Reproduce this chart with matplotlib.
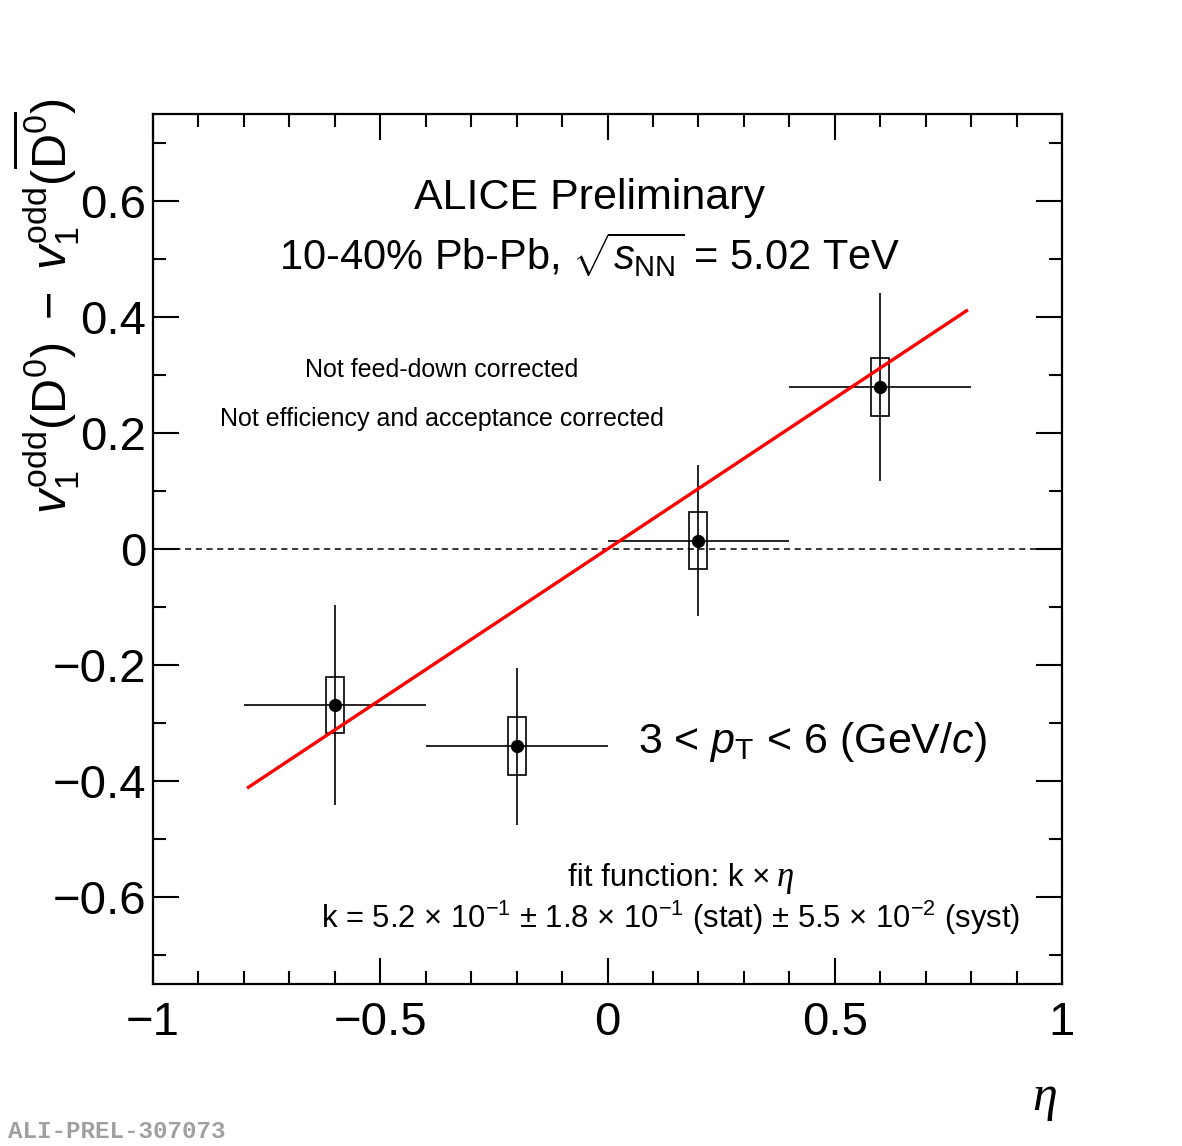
import matplotlib
matplotlib.use("Agg")
import matplotlib.pyplot as plt
from matplotlib.patches import Rectangle
from matplotlib.ticker import MultipleLocator

plt.rcParams['font.family'] = ['Liberation Sans', 'DejaVu Sans']
plt.rcParams['mathtext.fontset'] = 'custom'
plt.rcParams['mathtext.rm'] = 'Liberation Sans'
plt.rcParams['mathtext.it'] = 'Liberation Sans:italic'
plt.rcParams['mathtext.bf'] = 'Liberation Sans:bold'

# data
eta = [-0.6, -0.2, 0.2, 0.6]
eta_err = [0.2, 0.2, 0.2, 0.2]
dv1 = [-0.269, -0.340, 0.014, 0.279]
stat_err = [0.172, 0.135, 0.130, 0.162]
syst_err = [0.048, 0.050, 0.049, 0.050]
k_fit = 0.52
fit_range = [-0.79, 0.79]

fig = plt.figure(figsize=(11.82, 11.46), dpi=100)
ax = fig.add_axes([153/1182, 1-984/1146, 909/1182, 870/1146])

# zero line
ax.plot([-1, 1], [0, 0], color='black', ls=(0, (4, 3)), lw=1.1, zorder=1)

# stat errors
ax.errorbar(eta, dv1, xerr=eta_err, yerr=stat_err, fmt='o', color='black',
            ms=8.5, elinewidth=1.2, capsize=0, zorder=4)

# syst boxes
for x, y, s in zip(eta, dv1, syst_err):
    ax.add_patch(Rectangle((x-0.02, y-s), 0.04, 2*s, fill=False,
                           edgecolor='black', lw=1.2, zorder=3))

# fit line
ax.plot(fit_range, [k_fit*v for v in fit_range], color='red', lw=2.4, zorder=5)

ax.set_xlim(-1, 1)
ax.set_ylim(-0.75, 0.75)
ax.xaxis.set_major_locator(MultipleLocator(0.5))
ax.xaxis.set_minor_locator(MultipleLocator(0.1))
ax.yaxis.set_major_locator(MultipleLocator(0.2))
ax.yaxis.set_minor_locator(MultipleLocator(0.1))
ax.tick_params(which='both', direction='in', top=True, right=True, width=1.5,
               labelsize=34)
ax.tick_params(axis='x', pad=12)
ax.tick_params(axis='y', pad=5)
ax.tick_params(which='major', length=19)
ax.tick_params(which='minor', length=9.5)
for sp in ax.spines.values():
    sp.set_linewidth(1.6)

def fmt(v, pos):
    if abs(v) < 1e-9:
        return '0'
    s = ('%g' % v)
    return s.replace('-', '\u2212')
ax.xaxis.set_major_formatter(plt.FuncFormatter(fmt))
ax.yaxis.set_major_formatter(plt.FuncFormatter(fmt))

def px(x, y):
    return (x/1182, 1-y/1146)

# axis titles
fig.text(*px(46, 98),
         r'$v_1^{\rm odd}({\rm D}^0)\ -\ v_1^{\rm odd}(\overline{{\rm D}^0})$',
         rotation=90, ha='center', va='top', fontsize=35)
fig.text(*px(1045, 1098), '\u03b7', family='Liberation Serif',
         style='italic', fontsize=36, ha='center', va='center')

# annotations
fig.text(*px(590, 198), 'ALICE Preliminary', fontsize=31, ha='center', va='center')
fig.text(*px(590, 255), r'10-40% Pb-Pb, $\sqrt{s_{\rm NN}}$ = 5.02 TeV',
         fontsize=30, ha='center', va='center')
fig.text(*px(442, 370), 'Not feed-down corrected', fontsize=18,
         ha='center', va='center')
fig.text(*px(442, 419), 'Not efficiency and acceptance corrected', fontsize=18,
         ha='center', va='center')
fig.text(*px(638, 742), r'3 < $p_{\rm T}$ < 6 (GeV/$c$)', fontsize=31,
         ha='left', va='center')
fig.text(*px(770, 878), 'fit function: k \u00d7', fontsize=22.5,
         ha='right', va='center')
fig.text(*px(777, 878), '\u03b7', family='Liberation Serif', style='italic',
         fontsize=25, ha='left', va='center')
fig.text(*px(1020, 918),
         r'k = 5.2 $\times$ 10$^{-1}$ $\pm$ 1.8 $\times$ 10$^{-1}$ (stat) $\pm$ 5.5 $\times$ 10$^{-2}$ (syst)',
         fontsize=22.3, ha='right', va='center')
fig.text(*px(8, 1132), 'ALI-PREL-307073', family='Liberation Mono',
         weight='bold', color='#a0a0a0', fontsize=17.5, ha='left', va='center')

fig.savefig('out.png', dpi=100)
